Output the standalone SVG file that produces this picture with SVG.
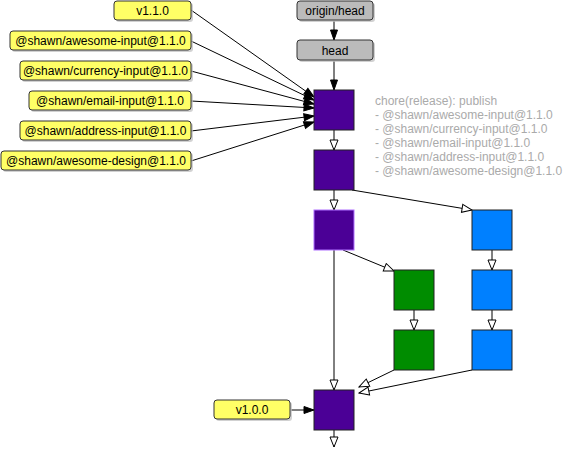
<svg xmlns="http://www.w3.org/2000/svg" width="581" height="459" viewBox="0 0 581 459">
<style>
text{font-family:"Liberation Sans",Arial,sans-serif;font-size:12px}
.lbl{fill:#ffff66;stroke:#333;stroke-width:1}
.ref{fill:#bbbbbb;stroke:#333;stroke-width:1}
.sh{fill:#bdbdbd;opacity:0.7}
.t{fill:#000;text-anchor:middle}
.msg{fill:#aaaaaa}
.pur{fill:#4b0096;stroke:#222;stroke-width:1}
.blu{fill:#0080ff;stroke:#222;stroke-width:1}
.grn{fill:#008c00;stroke:#222;stroke-width:1}
.e{stroke:#000;stroke-width:1;fill:none}
.f{marker-end:url(#fa)}
.h{marker-end:url(#ha)}
</style>
<defs>
<marker id="fa" markerUnits="userSpaceOnUse" markerWidth="12" markerHeight="10" viewBox="0 0 12 10" refX="11" refY="5" orient="auto"><path d="M1,1.5 L11,5 L1,8.5 Z" fill="#000" stroke="#000"/></marker>
<marker id="ha" markerUnits="userSpaceOnUse" markerWidth="12" markerHeight="10" viewBox="0 0 12 10" refX="11" refY="5" orient="auto"><path d="M1,1 L11,5 L1,9 Z" fill="#fff" stroke="#000"/></marker>
</defs>
<rect width="581" height="459" fill="#fff"/>
<g id="connectors">
<line class="e f" x1="334" y1="21" x2="334" y2="40"/>
<line class="e f" x1="334" y1="61" x2="334" y2="90"/>
<line class="e f" x1="191" y1="10" x2="314" y2="97"/>
<line class="e f" x1="191" y1="41" x2="314" y2="100"/>
<line class="e f" x1="191" y1="71" x2="314" y2="104"/>
<line class="e f" x1="191" y1="101" x2="314" y2="108"/>
<line class="e f" x1="191" y1="131" x2="314" y2="116"/>
<line class="e f" x1="191" y1="161" x2="314" y2="122"/>
<line class="e f" x1="291" y1="410" x2="314" y2="410"/>
<line class="e h" x1="334" y1="130" x2="334" y2="150"/>
<line class="e h" x1="334" y1="190" x2="334" y2="210"/>
<line class="e h" x1="352" y1="190" x2="472" y2="210"/>
<line class="e h" x1="343" y1="250" x2="394" y2="271"/>
<line class="e h" x1="334" y1="250" x2="334" y2="390"/>
<line class="e h" x1="414" y1="310" x2="414" y2="330"/>
<line class="e h" x1="492" y1="250" x2="492" y2="270"/>
<line class="e h" x1="492" y1="310" x2="492" y2="330"/>
<line class="e h" x1="394" y1="370" x2="359" y2="387"/>
<line class="e h" x1="472" y1="370" x2="359" y2="393"/>
<line class="e h" x1="334" y1="430" x2="334" y2="447"/>
</g>
<g id="origin-head"><rect class="sh" x="299" y="3" width="76" height="19" rx="3"/><rect class="ref" x="297" y="1" width="76" height="19" rx="3"/><text class="t" x="335" y="15">origin/head</text></g>
<g id="head"><rect class="sh" x="299" y="42" width="76" height="20" rx="3"/><rect class="ref" x="297" y="40" width="76" height="20" rx="3"/><text class="t" x="335" y="55">head</text></g>
<g id="tag-v110"><rect class="sh" x="116" y="3" width="77" height="19" rx="3"/><rect class="lbl" x="114" y="1" width="77" height="19" rx="3"/><text class="t" x="152.5" y="15">v1.1.0</text></g>
<g id="tag-awesome-input"><rect class="sh" x="12" y="33" width="181" height="19" rx="3"/><rect class="lbl" x="10" y="31" width="181" height="19" rx="3"/><text class="t" x="100.5" y="45">@shawn/awesome-input@1.1.0</text></g>
<g id="tag-currency-input"><rect class="sh" x="22" y="63" width="171" height="19" rx="3"/><rect class="lbl" x="20" y="61" width="171" height="19" rx="3"/><text class="t" x="105.5" y="75">@shawn/currency-input@1.1.0</text></g>
<g id="tag-email-input"><rect class="sh" x="31" y="93" width="162" height="19" rx="3"/><rect class="lbl" x="29" y="91" width="162" height="19" rx="3"/><text class="t" x="110" y="105">@shawn/email-input@1.1.0</text></g>
<g id="tag-address-input"><rect class="sh" x="22" y="123" width="171" height="19" rx="3"/><rect class="lbl" x="20" y="121" width="171" height="19" rx="3"/><text class="t" x="105.5" y="135">@shawn/address-input@1.1.0</text></g>
<g id="tag-awesome-design"><rect class="sh" x="3" y="153" width="190" height="19" rx="3"/><rect class="lbl" x="1" y="151" width="190" height="19" rx="3"/><text class="t" x="96" y="165">@shawn/awesome-design@1.1.0</text></g>
<g id="tag-v100"><rect class="sh" x="216" y="402" width="76" height="19" rx="3"/><rect class="lbl" x="214" y="400" width="76" height="19" rx="3"/><text class="t" x="252" y="414">v1.0.0</text></g>
<g id="c1"><rect class="pur" x="314" y="90" width="40" height="40"/></g>
<g id="c1-msg">
<text class="msg" x="375" y="105">chore(release): publish</text>
<text class="msg" x="375" y="119">- @shawn/awesome-input@1.1.0</text>
<text class="msg" x="375" y="133">- @shawn/currency-input@1.1.0</text>
<text class="msg" x="375" y="147">- @shawn/email-input@1.1.0</text>
<text class="msg" x="375" y="161">- @shawn/address-input@1.1.0</text>
<text class="msg" x="375" y="175">- @shawn/awesome-design@1.1.0</text>
</g>
<g id="c2"><rect class="pur" x="314" y="150" width="40" height="40"/></g>
<g id="c3"><rect class="pur" x="314" y="210" width="40" height="40" style="stroke:#b070ff"/></g>
<g id="b1"><rect class="blu" x="472" y="210" width="40" height="40"/></g>
<g id="b2"><rect class="blu" x="472" y="270" width="40" height="40"/></g>
<g id="b3"><rect class="blu" x="472" y="330" width="40" height="40"/></g>
<g id="g1"><rect class="grn" x="394" y="270" width="40" height="40"/></g>
<g id="g2"><rect class="grn" x="394" y="330" width="40" height="40"/></g>
<g id="c4"><rect class="pur" x="314" y="390" width="40" height="40"/></g>
</svg>
